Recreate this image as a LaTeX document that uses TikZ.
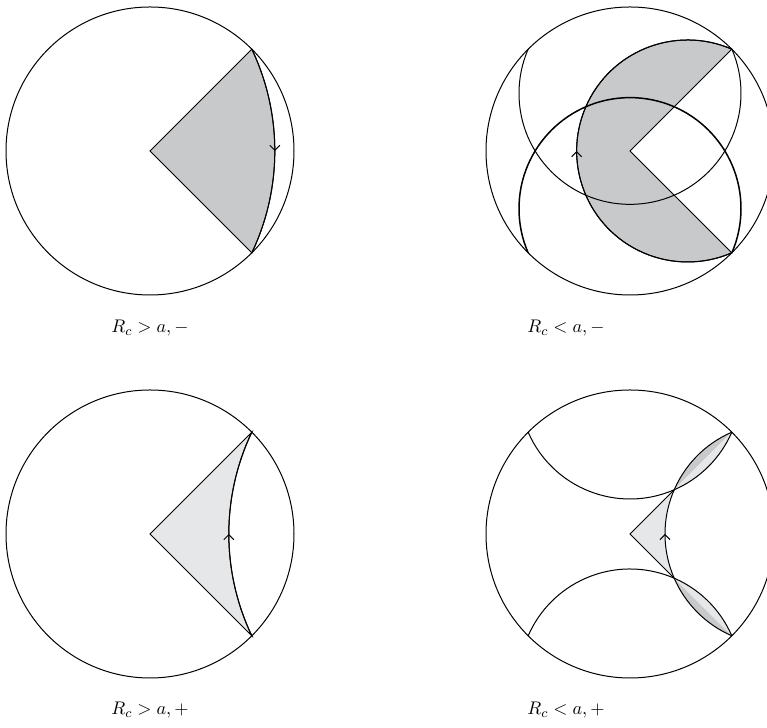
\documentclass[tikz,border=0pt]{standalone}
\usepackage{tikz}
\usetikzlibrary{arrows.meta,decorations.markings}
\definecolor{sombra}{HTML}{C8C9CB}
\definecolor{sombrac}{HTML}{E6E7E8}

\begin{document}
\begin{tikzpicture}[x=0.6pt, y=0.6pt,
    borde/.style={draw=black, line width=0.6pt},
    oscuro/.style={borde, fill=sombra},
    claro/.style={borde, fill=sombrac},
    sentido/.style={postaction={decorate}, decoration={markings,
      mark=at position 0.5 with {\arrow{Straight Barb[length=3pt,width=6pt]}}}},
    contra/.style={postaction={decorate}, decoration={markings,
      mark=at position 0.5 with {\arrowreversed{Straight Barb[length=3pt,width=6pt]}}}},
    etiqueta/.style={anchor=base, font=\fontsize{11}{13}\selectfont}]

  \useasboundingbox (0,0) rectangle (767,728);
  \clip (0,0) rectangle (767,728);

  \begin{scope}[shift={(150,577)}]
    \coordinate (o1) at (0,0);
    \coordinate (p1) at (101.82,101.82);
    \draw[borde] (o1) circle[radius=144];
    \filldraw[oscuro] (o1) -- (p1) arc[start angle=25.45, end angle=-25.45, radius=237] -- cycle;
    \draw[borde, sentido] (p1) arc[start angle=25.45, end angle=-25.45, radius=237];
  \end{scope}

  \begin{scope}[shift={(630,577)}]
    \coordinate (o2) at (0,0);
    \coordinate (p2) at (101.82,101.82);
    \filldraw[oscuro] (o2) -- (p2) arc[start angle=66.54, end angle=293.46, radius=111] -- cycle;
    \draw[borde, contra] (p2) arc[start angle=66.54, end angle=293.46, radius=111];
    \begin{scope}
      \clip (o2) circle[radius=144];
      \draw[borde] (0,57.63) circle[radius=111];
      \draw[borde, line width=0.9pt] (0,-57.63) circle[radius=111];
    \end{scope}
    \draw[borde] (o2) circle[radius=144];
  \end{scope}

  \begin{scope}[shift={(150,194)}]
    \coordinate (o3) at (0,0);
    \coordinate (p3) at (101.82,101.82);
    \draw[borde] (o3) circle[radius=144];
    \filldraw[claro] (o3) -- (p3) arc[start angle=154.55, end angle=205.45, radius=237] -- cycle;
    \draw[borde, contra] (p3) arc[start angle=154.55, end angle=205.45, radius=237];
  \end{scope}

  \begin{scope}[shift={(630,194)}]
    \coordinate (o4) at (0,0);
    \coordinate (p4) at (101.82,101.82);
    \coordinate (q4) at (101.82,-101.82);
    \coordinate (r4) at (-101.82,101.82);
    \coordinate (m4) at (44.18,44.18);
    \coordinate (n4) at (44.18,-44.18);
    \fill[sombrac] (o4) -- (m4) arc[start angle=156.55, end angle=203.45, radius=111] -- cycle;
    \fill[sombra] (p4) arc[start angle=113.46, end angle=156.55, radius=111] -- cycle;
    \fill[sombrac] (m4) arc[start angle=-66.55, end angle=-23.46, radius=111] -- cycle;
    \fill[sombra] (q4) arc[start angle=246.54, end angle=203.45, radius=111] -- cycle;
    \fill[sombrac] (n4) arc[start angle=66.55, end angle=23.46, radius=111] -- cycle;
    \draw[borde] (o4) circle[radius=144];
    \draw[borde] (m4) -- (o4) -- (n4);
    \draw[borde, contra] (p4) arc[start angle=113.46, end angle=246.54, radius=111];
    \draw[borde] (r4) arc[start angle=-156.54, end angle=-23.46, radius=111];
    \draw[borde] (q4) arc[start angle=23.46, end angle=156.54, radius=111];
  \end{scope}

  \node[etiqueta] (l1) at (150,395) {$R_c > a, -$};
  \node[etiqueta] (l2) at (566,395) {$R_c < a, -$};
  \node[etiqueta] (l3) at (150,13) {$R_c > a, +$};
  \node[etiqueta] (l4) at (566,13) {$R_c < a, +$};
\end{tikzpicture}
\end{document}
